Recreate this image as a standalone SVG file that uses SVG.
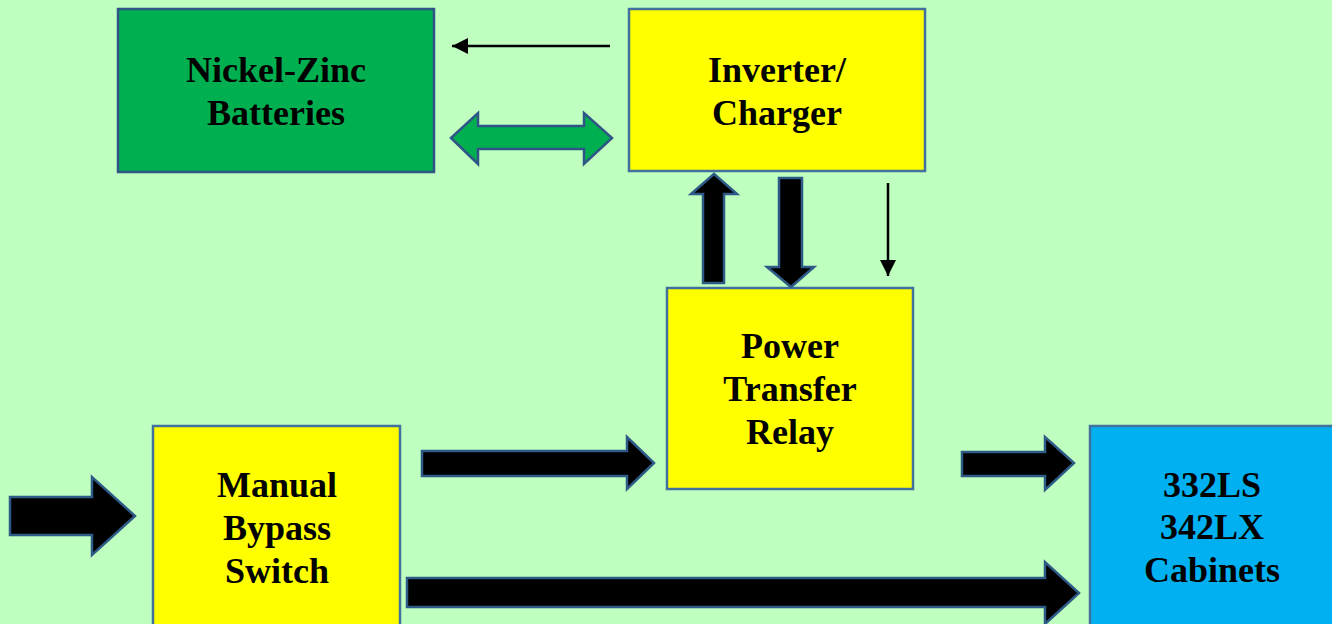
<svg xmlns="http://www.w3.org/2000/svg" width="1332" height="624" viewBox="0 0 1332 624">
<style>
.box{stroke:#41719C;stroke-width:2.5}
.lbl{font-family:"Liberation Serif","Times New Roman",serif;font-weight:bold;font-size:36px;text-anchor:middle;fill:#000}
.blk{fill:#000;stroke:#2E5A87;stroke-width:2.5;stroke-linejoin:miter}
.thin{stroke:#000;stroke-width:2.5;fill:none}
</style>
<defs>
<marker id="ah" markerUnits="userSpaceOnUse" markerWidth="18" markerHeight="16" refX="16" refY="8" orient="auto">
<path d="M0,0 L16,8 L0,16 Z" fill="#000"/>
</marker>
</defs>
<rect width="1332" height="624" fill="#BFFFBF"/>
<g id="nickel-zinc">
<rect class="box" x="118" y="9" width="316" height="163" fill="#00B050" style="stroke:#2F5586"/>
<text class="lbl" x="276" y="82">Nickel-Zinc</text>
<text class="lbl" x="276" y="125">Batteries</text>
</g>
<g id="inverter">
<rect class="box" x="629" y="9" width="296" height="162" fill="#FFFF00"/>
<text class="lbl" x="777" y="82">Inverter/</text>
<text class="lbl" x="777" y="125">Charger</text>
</g>
<g id="relay">
<rect class="box" x="667" y="288" width="246" height="201" fill="#FFFF00"/>
<text class="lbl" x="790" y="358">Power</text>
<text class="lbl" x="790" y="401">Transfer</text>
<text class="lbl" x="790" y="444">Relay</text>
</g>
<g id="bypass">
<rect class="box" x="153" y="426" width="247" height="210" fill="#FFFF00"/>
<text class="lbl" x="277" y="497">Manual</text>
<text class="lbl" x="277" y="540">Bypass</text>
<text class="lbl" x="277" y="583">Switch</text>
</g>
<g id="cabinets">
<rect class="box" x="1090" y="426" width="250" height="210" fill="#00B0F0"/>
<text class="lbl" x="1212" y="497">332LS</text>
<text class="lbl" x="1212" y="539">342LX</text>
<text class="lbl" x="1212" y="582">Cabinets</text>
</g>
<g id="connectors">
<line class="thin" x1="610" y1="46" x2="452" y2="46" marker-end="url(#ah)"/>
<path d="M451,138 L478,113 L478,126 L584,126 L584,113 L612,138 L584,164 L584,149 L478,149 L478,164 Z" fill="#00B050" stroke="#2F5586" stroke-width="2.5"/>
<path class="blk" d="M703,283 L703,194 L691,194 L714,174 L737,194 L724,194 L724,283 Z"/>
<path class="blk" d="M779,178 L802,178 L802,267 L814,267 L791,287 L767,267 L779,267 Z"/>
<line class="thin" x1="888" y1="183" x2="888" y2="276" marker-end="url(#ah)"/>
<path class="blk" d="M10,497 L92,497 L92,477 L135,516 L92,555 L92,535 L10,535 Z"/>
<path class="blk" d="M422,451 L627,451 L627,437 L654,463 L627,489 L627,476 L422,476 Z"/>
<path class="blk" d="M962,452 L1045,452 L1045,437 L1074,463 L1045,490 L1045,476 L962,476 Z"/>
<path class="blk" d="M407,578 L1045,578 L1045,562 L1079,593 L1045,624 L1045,607 L407,607 Z"/>
</g>
</svg>
